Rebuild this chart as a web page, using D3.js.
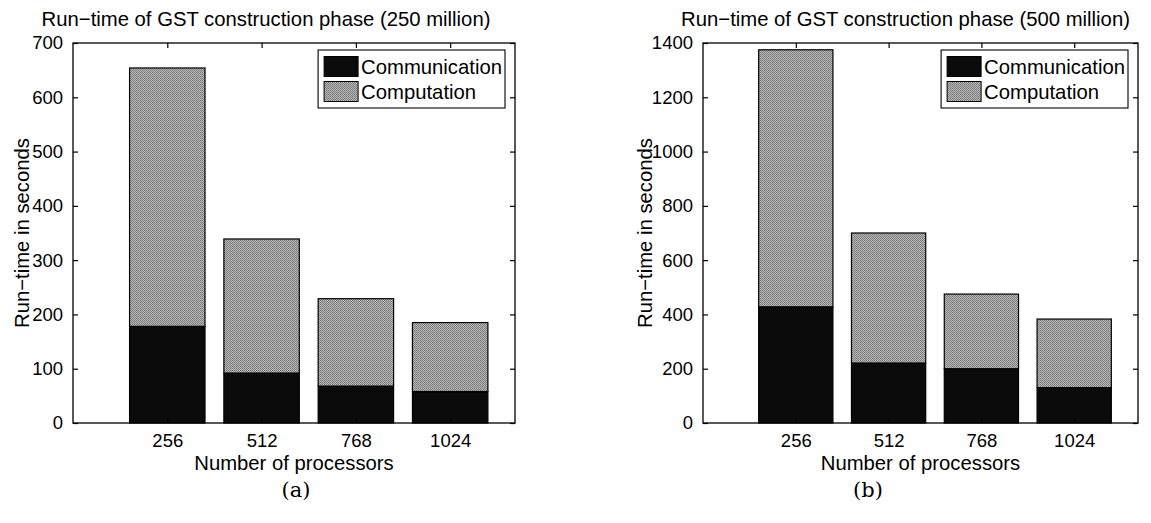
<!DOCTYPE html>
<html>
<head>
<meta charset="utf-8">
<script src="https://cdn.jsdelivr.net/npm/d3@7"></script>
<style>
  html, body { margin: 0; padding: 0; background: #fff; }
  svg { display: block; }
  text { font-family: "Liberation Sans", Arial, Helvetica, sans-serif; fill: #000; }
</style>
</head>
<body>
<svg id="chart" width="1151" height="523">
  <defs>
    <pattern id="halftone" width="2" height="2" patternUnits="userSpaceOnUse">
      <rect width="2" height="2" fill="#b4b4b4"></rect>
      <rect width="1" height="1" fill="#7c7c7c"></rect>
      <rect x="1" y="1" width="1" height="1" fill="#868686"></rect>
    </pattern>
  </defs>
</svg>
<script>
// ---- data ----
const processors = [256, 512, 768, 1024];
const seriesNames = ["Communication", "Computation"];

const commA = [178, 92, 68, 58];
const compA = [476, 247, 161, 127];
const yTicksA = [0, 100, 200, 300, 400, 500, 600, 700];
const titleA = "Run\u2212time of GST construction phase (250 million)";

const commB = [428, 221, 200, 130];
const compB = [947, 479, 275, 253];
const yTicksB = [0, 200, 400, 600, 800, 1000, 1200, 1400];
const titleB = "Run\u2212time of GST construction phase (500 million)";

const colors = { Communication: "#0b0b0b", Computation: "url(#halftone)" };

const svg = d3.select("#chart");
const tickFs = 18.5, labelFs = 20.3;

function drawPanel(opt) {
  const { x0, x1, y0, y1, comm, comp, yTicks, title, titleDx, caption, captionX, ylabelX } = opt;
  const x = d3.scaleLinear().domain([0, 1200]).range([x0, x1]);
  const y = d3.scaleLinear().domain([0, yTicks[yTicks.length - 1]]).range([y1, y0]);
  const g = svg.append("g");
  const barW = x(0.8 * 256) - x(0);

  const rows = processors.map((p, i) => ({ p, Communication: comm[i], Computation: comp[i] }));
  const stacked = d3.stack().keys(seriesNames)(rows);

  // bars
  stacked.forEach(layer => {
    g.append("g").selectAll("rect").data(layer).join("rect")
      .attr("x", d => x(d.data.p) - barW / 2)
      .attr("y", d => y(d[1]))
      .attr("width", barW)
      .attr("height", d => y(d[0]) - y(d[1]))
      .attr("fill", colors[layer.key])
      .attr("stroke", "#000")
      .attr("stroke-width", 1.2);
  });

  // axes box
  g.append("rect").attr("x", x0).attr("y", y0).attr("width", x1 - x0).attr("height", y1 - y0)
    .attr("fill", "none").attr("stroke", "#000").attr("stroke-width", 1.3);

  const tl = 5;
  const fmt = d3.format("d");
  const yl = d3.axisLeft(y).tickValues(yTicks).tickFormat(fmt).tickSize(-tl).tickPadding(tl + 5);
  const gl = g.append("g").attr("transform", `translate(${x0},0)`).call(yl);
  const yr = d3.axisRight(y).tickValues(yTicks).tickSize(-tl).tickFormat("");
  const gr = g.append("g").attr("transform", `translate(${x1},0)`).call(yr);
  const xb = d3.axisBottom(x).tickValues(processors).tickFormat(fmt).tickSize(-tl).tickPadding(11);
  const gb = g.append("g").attr("transform", `translate(0,${y1})`).call(xb);
  const xt = d3.axisTop(x).tickValues(processors).tickSize(-tl).tickFormat("");
  const gt = g.append("g").attr("transform", `translate(0,${y0})`).call(xt);

  [gl, gr, gb, gt].forEach(a => {
    a.select(".domain").remove();
    a.selectAll(".tick line").attr("stroke", "#000").attr("stroke-width", 1.2);
    a.selectAll("text").attr("font-size", tickFs).attr("font-family", '"Liberation Sans", Arial, sans-serif').attr("fill", "#000");
  });

  // title
  g.append("text").attr("x", (x0 + x1) / 2 + titleDx).attr("y", 26)
    .attr("text-anchor", "middle").attr("font-size", labelFs).text(title);

  // x label
  g.append("text").attr("x", (x0 + x1) / 2).attr("y", 470)
    .attr("text-anchor", "middle").attr("font-size", labelFs).text("Number of processors");

  // y label
  g.append("text").attr("transform", `translate(${ylabelX},${(y0 + y1) / 2}) rotate(-90)`)
    .attr("text-anchor", "middle").attr("dy", "0.35em").attr("font-size", labelFs).text("Run\u2212time in seconds");

  // caption
  g.append("text").attr("x", captionX).attr("y", 497)
    .attr("text-anchor", "middle").attr("font-size", 21)
    .style("font-family", '"DejaVu Serif", "Liberation Serif", serif').text(caption);

  // legend
  const lg = g.append("g");
  const fs = labelFs, rowH = 25, swW = 34, swH = 20;
  const boxRight = x1 - 10, boxTop = y0 + 7;
  const tmp = lg.append("text").attr("font-size", fs).text("Communication");
  const tw = tmp.node().getComputedTextLength();
  tmp.remove();
  const textX = boxRight - 3 - tw;
  const swX = textX - 3 - swW;
  const boxLeft = swX - 6;
  const boxH = rowH * 2 + 8;
  lg.append("rect").attr("x", boxLeft).attr("y", boxTop).attr("width", boxRight - boxLeft).attr("height", boxH)
    .attr("fill", "#fff").attr("stroke", "#000").attr("stroke-width", 1.1);
  seriesNames.forEach((name, i) => {
    const cy = boxTop + 4 + rowH * i + rowH / 2;
    lg.append("rect").attr("x", swX).attr("y", cy - swH / 2).attr("width", swW).attr("height", swH)
      .attr("fill", colors[name]).attr("stroke", "#000").attr("stroke-width", 1);
    lg.append("text").attr("x", textX).attr("y", cy).attr("dy", "0.35em").attr("font-size", fs).text(name);
  });
}

drawPanel({ x0: 73, x1: 515, y0: 43, y1: 423, comm: commA, comp: compA, yTicks: yTicksA,
  title: titleA, titleDx: -28, caption: "(a)", captionX: 296, ylabelX: 22 });
drawPanel({ x0: 703, x1: 1138, y0: 43, y1: 423, comm: commB, comp: compB, yTicks: yTicksB,
  title: titleB, titleDx: -15, caption: "(b)", captionX: 868, ylabelX: 645 });
</script>
</body>
</html>
